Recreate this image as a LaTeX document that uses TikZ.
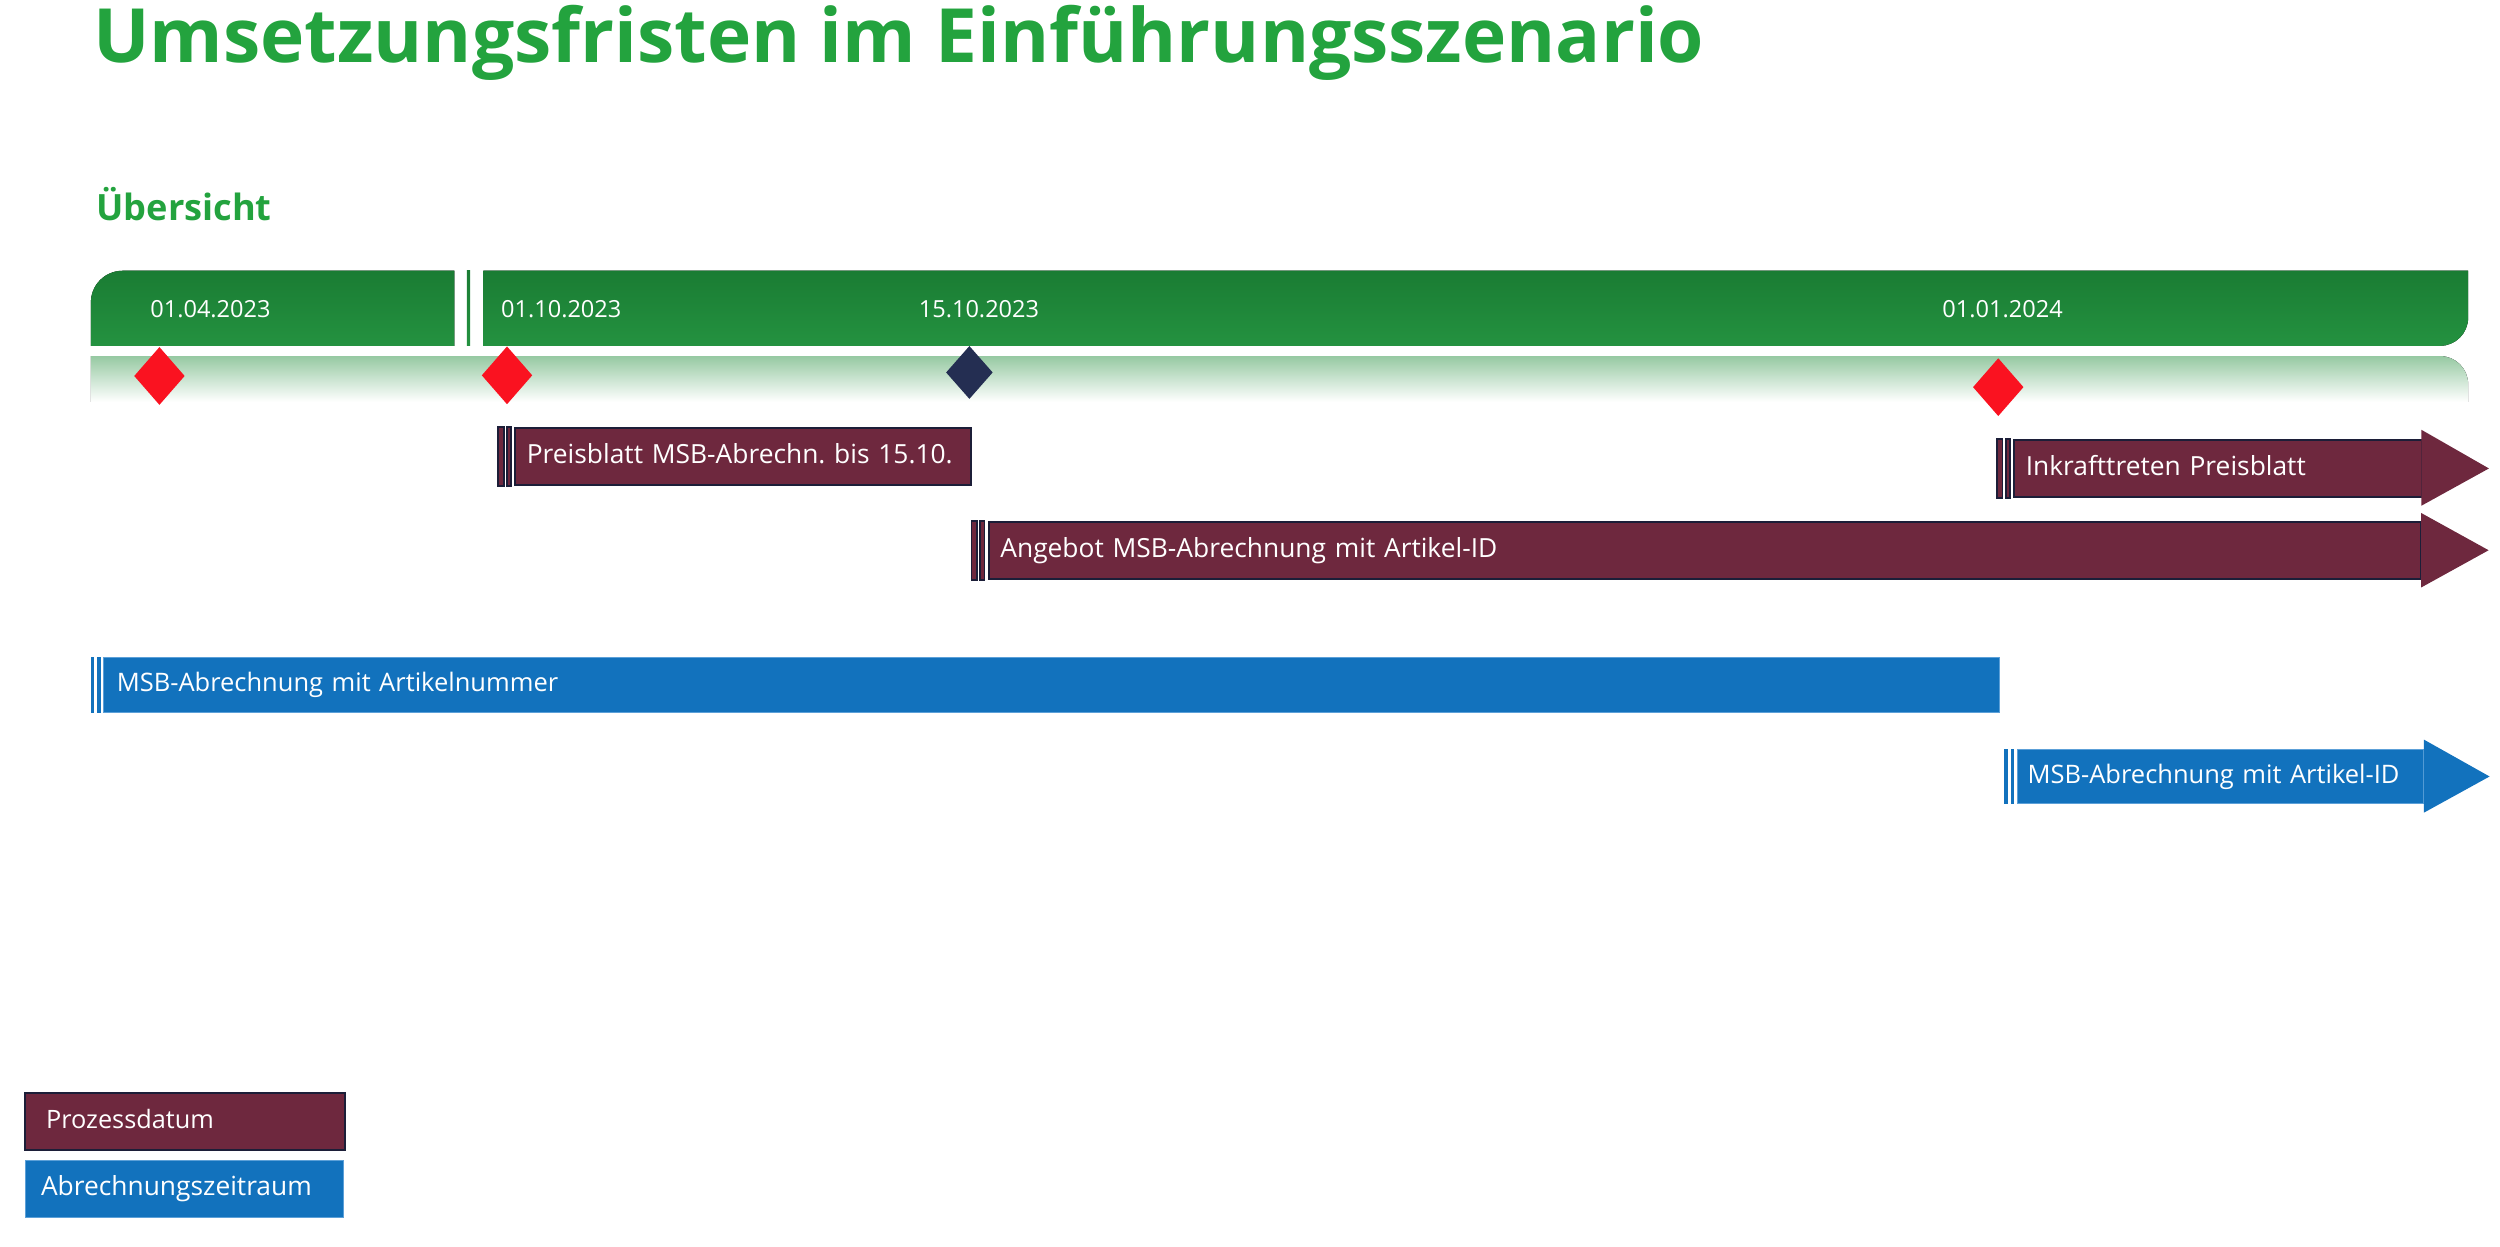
\documentclass[tikz,border=0pt]{standalone}
\usepackage{fontspec}
\setmainfont{Open Sans}
\usepackage{tikz}
\usetikzlibrary{shapes.geometric,positioning}
\definecolor{titlegreen}{RGB}{35,163,62}
\definecolor{bargreentop}{RGB}{26,124,51}
\definecolor{bargreenbot}{RGB}{36,146,64}
\definecolor{glow}{RGB}{150,201,162}
\definecolor{markred}{RGB}{250,18,32}
\definecolor{marknavy}{RGB}{36,46,82}
\definecolor{process}{RGB}{110,40,62}
\definecolor{processline}{RGB}{28,30,56}
\definecolor{period}{RGB}{18,114,189}
\definecolor{periodline}{RGB}{92,160,216}
\frenchspacing

\begin{document}
\begin{tikzpicture}[
  x=0.4537pt, y=-0.4537pt,
  every node/.style={inner sep=0pt, font=\fontsize{7.5}{9}\selectfont},
  date_label/.style={text=white, font=\fontsize{6.7}{8}\selectfont},
  process_bar/.style={draw=processline, line width=0.6pt, fill=process, text=white,
    inner xsep=3.3pt, minimum height=16.2pt, text height=5.6pt, text depth=1.6pt,
    align=left, anchor=west},
  process_stripe/.style={draw=processline, fill=process, line width=0.5pt},
  process_tip/.style={fill=process},
  period_bar/.style={draw=periodline, line width=0.3pt, fill=period, text=white,
    inner xsep=3.3pt, minimum height=15.5pt, text height=5.6pt, text depth=1.6pt,
    align=left, anchor=west, font=\fontsize{7.25}{9}\selectfont},
  period_stripe/.style={fill=period},
  period_tip/.style={fill=period},
  milestone_red/.style={diamond, fill=markred, minimum width=14.5pt, minimum height=16.6pt},
  milestone_navy/.style={diamond, fill=marknavy, minimum width=13.4pt, minimum height=15.2pt},
  bar_green/.style={top color=bargreentop, bottom color=bargreenbot},
]
\useasboundingbox (0,0) rectangle (1568,781.5);

\node[anchor=base west, text=titlegreen, font=\bfseries\fontsize{21.3}{25}\selectfont]
  (title) at (58,39.3) {Umsetzungsfristen im Einführungsszenario};
\node[anchor=base west, text=titlegreen, font=\bfseries\fontsize{10.3}{12}\selectfont]
  (overview) at (60,138.4) {Übersicht};

\fill[bar_green] (57,216.9) [rounded corners=9pt] -- (57,169.8) [sharp corners]
  -- (285,169.8) -- (285,216.9) -- cycle;
\fill[bar_green] (292.8,169.8) rectangle (294.9,216.9);
\fill[bar_green] (303.2,169.8) -- (1548,169.8) [rounded corners=8pt] -- (1548,216.9)
  [sharp corners] -- (303.2,216.9) -- cycle;
\fill[top color=glow, bottom color=white] (57,223.3) [rounded corners=8pt] -- (1548,223.3)
  [sharp corners] -- (1548,252) -- (57,252) -- cycle;

\node[date_label] (d_apr) at (132,193.8) {01.04.2023};
\node[date_label] (d_oct) at (352,193.8) {01.10.2023};
\node[date_label] (d_mid) at (614,193.8) {15.10.2023};
\node[date_label] (d_jan) at (1256,193.8) {01.01.2024};

\node[milestone_red] (m_apr) at (100,235.8) {};
\node[milestone_red] (m_oct) at (318,235.4) {};
\node[milestone_navy] (m_mid) at (608,233.6) {};
\node[milestone_red] (m_jan) at (1253.3,242.8) {};

\node[process_bar, text width=123.2pt] (preis) at (322.5,286.5) {Preisblatt MSB-Abrechn. bis 15.10.};
\node[process_bar, text width=109.4pt] (inkraft) at (1262.6,293.8) {Inkrafttreten Preisblatt};
\node[process_bar, text width=401.1pt] (angebot) at (619.5,345.1) {Angebot MSB-Abrechnung mit Artikel-ID};
\node[period_bar, inner xsep=3.7pt, text width=531.9pt] (artnr) at (64.8,429.5) {MSB-Abrechnung mit Artikelnummer};
\node[period_bar, inner xsep=2.9pt, text width=109.7pt] (artid) at (1265,487) {MSB-Abrechnung mit Artikel-ID};

\filldraw[process_stripe] ([xshift=-4.6pt]preis.north west) rectangle ([xshift=-3pt]preis.south west);
\filldraw[process_stripe] ([xshift=-2.1pt]preis.north west) rectangle ([xshift=-0.9pt]preis.south west);
\filldraw[process_stripe] ([xshift=-4.6pt]inkraft.north west) rectangle ([xshift=-3pt]inkraft.south west);
\filldraw[process_stripe] ([xshift=-2.1pt]inkraft.north west) rectangle ([xshift=-0.9pt]inkraft.south west);
\filldraw[process_stripe] ([xshift=-4.6pt]angebot.north west) rectangle ([xshift=-3pt]angebot.south west);
\filldraw[process_stripe] ([xshift=-2.1pt]angebot.north west) rectangle ([xshift=-0.9pt]angebot.south west);
\fill[period_stripe] ([xshift=-3.6pt]artnr.north west) rectangle ([xshift=-2.6pt]artnr.south west);
\fill[period_stripe] ([xshift=-1.7pt]artnr.north west) rectangle ([xshift=-0.7pt]artnr.south west);
\fill[period_stripe] ([xshift=-3.8pt]artid.north west) rectangle ([xshift=-2.5pt]artid.south west);
\fill[period_stripe] ([xshift=-1.8pt]artid.north west) rectangle ([xshift=-0.7pt]artid.south west);

\fill[process_tip] ([xshift=-0.4pt,yshift=2.6pt]inkraft.north east) -- ([xshift=18.8pt]inkraft.east)
  -- ([xshift=-0.4pt,yshift=-2.2pt]inkraft.south east) -- cycle;
\fill[process_tip] ([xshift=-0.4pt,yshift=2.2pt]angebot.north east) -- ([xshift=18.8pt]angebot.east)
  -- ([xshift=-0.4pt,yshift=-2.2pt]angebot.south east) -- cycle;
\fill[period_tip] ([yshift=2.6pt]artid.north east) -- ([xshift=18.7pt]artid.east)
  -- ([yshift=-2.4pt]artid.south east) -- cycle;

\node[process_bar, inner xsep=6pt, text width=79.1pt, font=\fontsize{7.2}{9}\selectfont]
  (legend_process) at (15,703.2) {Prozessdatum};
\node[period_bar, inner xsep=4.4pt, text width=81.6pt, minimum height=16.2pt, font=\fontsize{7.5}{9}\selectfont]
  (legend_period) at (15.7,745.5) {Abrechnungszeitraum};
\end{tikzpicture}
\end{document}
